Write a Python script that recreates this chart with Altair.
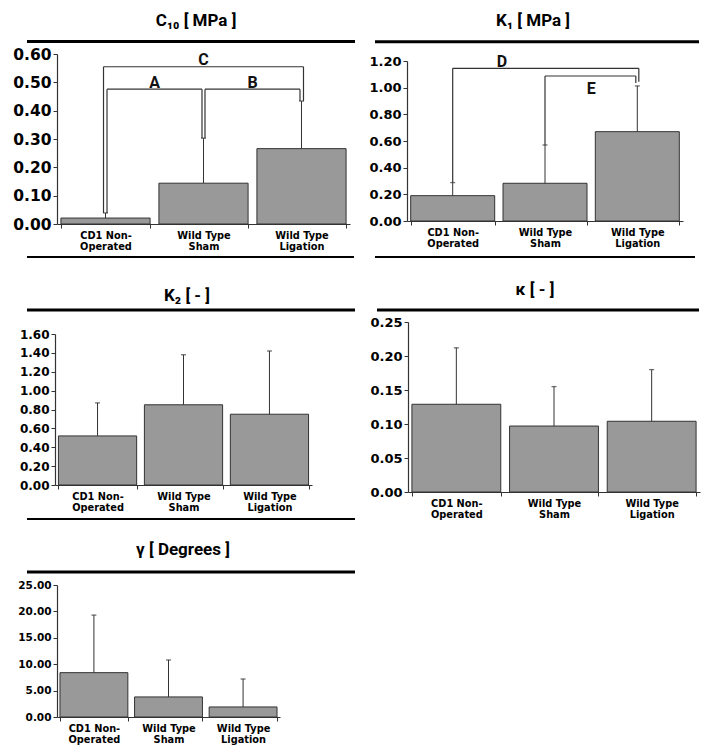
import altair as alt
import pandas as pd

# ---------------- data ----------------
categories = ["CD1 Non-\nOperated", "Wild Type\nSham", "Wild Type\nLigation"]

c10_mean = [0.021, 0.144, 0.266]
c10_sd = [0.018, 0.159, 0.168]
k1_mean = [0.190, 0.283, 0.670]
k1_sd = [0.098, 0.287, 0.343]
k2_mean = [0.52, 0.85, 0.75]
k2_sd = [0.35, 0.53, 0.67]
kappa_mean = [0.129, 0.097, 0.104]
kappa_sd = [0.083, 0.058, 0.076]
gamma_mean = [8.4, 3.8, 1.9]
gamma_sd = [10.9, 7.0, 5.3]

titles = ["C\u2081\u2080 [ MPa ]", "K\u2081 [ MPa ]", "K\u2082 [ - ]", "\u03ba [ - ]", "\u03b3 [ Degrees ]"]
y_max = [0.60, 1.20, 1.60, 0.25, 25.0]
y_ticks = [
    [0.0, 0.1, 0.2, 0.3, 0.4, 0.5, 0.6],
    [0.0, 0.2, 0.4, 0.6, 0.8, 1.0, 1.2],
    [0.0, 0.2, 0.4, 0.6, 0.8, 1.0, 1.2, 1.4, 1.6],
    [0.0, 0.05, 0.10, 0.15, 0.20, 0.25],
    [0.0, 5.0, 10.0, 15.0, 20.0, 25.0],
]

# significance brackets: panel, label, from idx, to idx, left foot, right foot, bracket level
br_panel = [0, 0, 0, 1, 1]
br_label = ["A", "B", "C", "D", "E"]
br_from = [0, 1, 0, 0, 1]
br_to = [1, 2, 2, 2, 2]
br_low_left = [0.039, 0.303, 0.039, 0.288, 0.570]
br_low_right = [0.303, 0.434, 0.434, 1.045, 1.035]
br_level = [0.476, 0.476, 0.555, 1.145, 1.0875]

MEANS = [c10_mean, k1_mean, k2_mean, kappa_mean, gamma_mean]
SDS = [c10_sd, k1_sd, k2_sd, kappa_sd, gamma_sd]

# ---------------- layout / style ----------------
OX, OY = 8, 8
W, H = 695, 737
PI, PO = 0.09, 0.04
LAYOUT = [
    dict(x0=57, x1=350, ytop=54, ybot=224, tf=15.5),
    dict(x0=407, x1=683, ytop=61, ybot=221, tf=13),
    dict(x0=55, x1=312, ytop=334, ybot=485, tf=12),
    dict(x0=408, x1=700, ytop=322, ybot=492, tf=13),
    dict(x0=57, x1=280, ytop=585, ybot=717, tf=10.5),
]
# bracket styling: left px offset, right px offset, label position (fraction of span), label above?
BR_STYLE = [
    dict(offl=1.5, offr=-1.5, frac=0.5, above=True),
    dict(offl=1.5, offr=-1.5, frac=0.5, above=True),
    dict(offl=-2.0, offr=2.0, frac=0.5, above=True),
    dict(offl=0.0, offr=1.5, frac=0.267, above=True),
    dict(offl=0.0, offr=-1.5, frac=0.5, above=False),
]
TITLE_POS = [(196, 21), (533, 21), (187, 296), (535, 290), (183, 550)]
THICK_LINES = [(27, 355, 41.5), (375, 699, 41.7), (27, 355, 310), (377, 699, 310), (27, 355, 572)]
THIN_LINES = [(27, 354, 257), (375, 695, 257), (27, 355, 519)]

AX_FONT = "DejaVu Sans, Verdana, sans-serif"
TITLE_FONT = "Roboto, Liberation Sans Narrow, sans-serif"
DARK = "#333333"


def make_panel(i):
    L = LAYOUT[i]
    df = pd.DataFrame({"cat": categories, "mean": MEANS[i], "sd": SDS[i]})
    df["top"] = df["mean"] + df["sd"]
    xs = alt.Scale(domain=categories, range=[L["x0"] - OX, L["x1"] - OX],
                   paddingInner=PI, paddingOuter=PO)
    ys = alt.Scale(domain=[0, y_max[i]], range=[L["ybot"] - OY, L["ytop"] - OY],
                   nice=False, zero=True)
    step = (L["x1"] - L["x0"]) / (3 - PI + 2 * PO)

    x_axis = alt.Axis(orient="bottom", offset=(L["ybot"] - OY) - H, title=None,
                      labelAngle=0, labelExpr="split(datum.label, '\\n')",
                      labelFont=AX_FONT, labelFontSize=9.8, labelFontWeight="bold",
                      labelColor="black", labelPadding=2, labelLineHeight=11,
                      tickBand="extent", tickSize=4, tickColor=DARK, domainColor=DARK,
                      domainWidth=1.2)
    y_axis = alt.Axis(orient="left", offset=-(L["x0"] - OX), title=None,
                      values=y_ticks[i], format=".2f", grid=False,
                      labelFont=AX_FONT, labelFontSize=L["tf"], labelFontWeight="bold",
                      labelColor="black", labelPadding=2, tickSize=4,
                      tickColor=DARK, domainColor=DARK, domainWidth=1.2)

    def X(f):
        return alt.X(f, type="nominal", scale=xs, axis=x_axis)

    def Y(f):
        return alt.Y(f, type="quantitative", scale=ys, axis=y_axis)

    base = alt.Chart(df)
    bars = base.mark_bar(fill="#999999", stroke=DARK, strokeWidth=1).encode(
        x=X("cat"), y=Y("mean"),
    )
    err = base.mark_rule(color=DARK, strokeWidth=1).encode(
        x=X("cat"), y=Y("mean"), y2="top:Q",
    )
    cap = base.mark_tick(color=DARK, size=5, thickness=1.3).encode(
        x=X("cat"), y=Y("top"),
    )
    layers = [bars, err, cap]

    for k in range(len(br_label)):
        if br_panel[k] != i:
            continue
        s = BR_STYLE[k]
        bdf = pd.DataFrame({
            "from": [categories[br_from[k]]],
            "to": [categories[br_to[k]]],
            "low_l": [br_low_left[k]],
            "low_r": [br_low_right[k]],
            "level": [br_level[k]],
            "label": [br_label[k]],
        })
        bc = alt.Chart(bdf)
        left = bc.mark_rule(color=DARK, strokeWidth=1.2, xOffset=s["offl"]).encode(
            x=X("from"), y=Y("low_l"), y2="level:Q",
        )
        right = bc.mark_rule(color=DARK, strokeWidth=1.2, xOffset=s["offr"]).encode(
            x=X("to"), y=Y("low_r"), y2="level:Q",
        )
        horiz = bc.mark_rule(color=DARK, strokeWidth=1.2, xOffset=s["offl"],
                             x2Offset=s["offr"]).encode(
            x=X("from"), x2="to:N", y=Y("level"),
        )
        dx = (br_to[k] - br_from[k]) * step * s["frac"]
        if s["above"]:
            txt_mark = bc.mark_text(font=TITLE_FONT, fontSize=16, fontWeight="bold",
                                    color="#111111", baseline="alphabetic", dx=dx, dy=-1.5)
        else:
            txt_mark = bc.mark_text(font=TITLE_FONT, fontSize=16, fontWeight="bold",
                                    color="#111111", baseline="top", dx=dx, dy=5)
        txt = txt_mark.encode(x=X("from"), y=Y("level"), text="label:N")
        layers += [left, right, horiz, txt]
    return alt.layer(*layers)


panels = [make_panel(i) for i in range(5)]

tdf = pd.DataFrame({
    "t": titles,
    "x": [p[0] - OX for p in TITLE_POS],
    "y": [p[1] - OY for p in TITLE_POS],
})
title_layer = alt.Chart(tdf).mark_text(
    font=TITLE_FONT, fontSize=17, fontWeight="bold", color="black",
    align="center", baseline="middle",
).encode(
    x=alt.X("x:Q", scale=None, axis=None),
    y=alt.Y("y:Q", scale=None, axis=None),
    text="t:N",
)

thick_df = pd.DataFrame({
    "x": [l[0] - OX for l in THICK_LINES],
    "x2": [l[1] - OX for l in THICK_LINES],
    "y": [l[2] - OY for l in THICK_LINES],
})
thick_layer = alt.Chart(thick_df).mark_rule(color="black", strokeWidth=3).encode(
    x=alt.X("x:Q", scale=None, axis=None),
    x2="x2:Q",
    y=alt.Y("y:Q", scale=None, axis=None),
)
thin_df = pd.DataFrame({
    "x": [l[0] - OX for l in THIN_LINES],
    "x2": [l[1] - OX for l in THIN_LINES],
    "y": [l[2] - OY for l in THIN_LINES],
})
thin_layer = alt.Chart(thin_df).mark_rule(color="black", strokeWidth=2).encode(
    x=alt.X("x:Q", scale=None, axis=None),
    x2="x2:Q",
    y=alt.Y("y:Q", scale=None, axis=None),
)

chart = alt.layer(*panels, title_layer, thick_layer, thin_layer).resolve_scale(
    x="independent", y="independent"
).properties(
    width=W, height=H, padding=0, autosize=alt.AutoSizeParams(type="none"),
    background="white",
).configure_view(stroke=None)

chart.save("out.html", embed_options={"renderer": "svg", "actions": False})
